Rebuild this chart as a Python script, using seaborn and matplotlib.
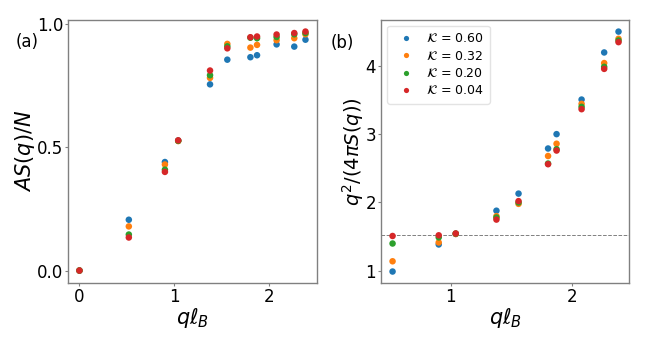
import pandas as pd
import matplotlib.pyplot as plt
import seaborn as sns

# valori
q = [0.0, 0.52, 0.90, 1.04, 1.375, 1.557, 1.80, 1.87, 2.076, 2.262, 2.38]
kappa = ['0.60', '0.32', '0.20', '0.04']

# pannello (a): A S(q) / N
as_060 = [0.0, 0.206, 0.440, 0.527, 0.755, 0.855, 0.865, 0.873, 0.917, 0.908, 0.936]
as_032 = [0.0, 0.179, 0.430, 0.525, 0.781, 0.919, 0.904, 0.915, 0.934, 0.942, 0.958]
as_020 = [0.0, 0.146, 0.409, 0.526, 0.792, 0.909, 0.944, 0.942, 0.947, 0.958, 0.963]
as_004 = [0.0, 0.134, 0.400, 0.528, 0.811, 0.901, 0.946, 0.949, 0.957, 0.963, 0.969]

# pannello (b): q^2 / (4 pi S(q)), senza il punto q = 0
r_060 = [0.99, 1.386, 1.54, 1.88, 2.13, 2.79, 3.00, 3.506, 4.195, 4.50]
r_032 = [1.14, 1.415, 1.54, 1.80, 1.98, 2.68, 2.86, 3.443, 4.04, 4.395]
r_020 = [1.40, 1.49, 1.545, 1.78, 2.00, 2.57, 2.78, 3.40, 3.985, 4.37]
r_004 = [1.51, 1.52, 1.547, 1.75, 2.02, 2.56, 2.76, 3.365, 3.955, 4.346]
linea_h = 1.518

serie_a = [as_060, as_032, as_020, as_004]
serie_b = [r_060, r_032, r_020, r_004]

righe_a = []
righe_b = []
for k, ya, yb in zip(kappa, serie_a, serie_b):
    etichetta = r'$\mathcal{K}$ = ' + k
    for x, y in zip(q, ya):
        righe_a.append({'q': x, 'y': y, 'k': etichetta})
    for x, y in zip(q[1:], yb):
        righe_b.append({'q': x, 'y': y, 'k': etichetta})
df_a = pd.DataFrame(righe_a)
df_b = pd.DataFrame(righe_b)

sns.set_style('white')
plt.rcParams['font.family'] = ['DejaVu Sans']
plt.rcParams['mathtext.fontset'] = 'dejavusans'
plt.rcParams['text.color'] = 'black'
plt.rcParams['axes.labelcolor'] = 'black'
plt.rcParams['xtick.color'] = 'black'
plt.rcParams['ytick.color'] = 'black'

colori = sns.color_palette('tab10', 4)

fig = plt.figure(figsize=(6.48, 3.4), dpi=100)
ax1 = fig.add_axes([0.105, 0.168, 0.384, 0.774])
ax2 = fig.add_axes([0.588, 0.168, 0.383, 0.774])

sns.scatterplot(data=df_a, x='q', y='y', hue='k', palette=colori, s=22,
                linewidth=0, ax=ax1, legend=False)
sns.scatterplot(data=df_b, x='q', y='y', hue='k', palette=colori, s=22,
                linewidth=0, ax=ax2)
ax2.axhline(linea_h, color='gray', ls='--', lw=0.7, zorder=0)

ax1.set_xlim(-0.12, 2.5)
ax1.set_ylim(-0.05, 1.017)
ax1.set_xticks([0, 1, 2])
ax1.set_yticks([0.0, 0.5, 1.0])
ax2.set_xlim(0.425, 2.468)
ax2.set_ylim(0.824, 4.674)
ax2.set_xticks([1, 2])
ax2.set_yticks([1, 2, 3, 4])

ax1.set_xlabel(r'$q\ell_B$', fontsize=15, labelpad=0)
ax1.set_ylabel(r'$AS(q)/N$', fontsize=15, labelpad=0)
ax2.set_xlabel(r'$q\ell_B$', fontsize=15, labelpad=0)
ax2.set_ylabel(r'$q^2/(4\pi S(q))$', fontsize=14, labelpad=0)

for ax in (ax1, ax2):
    for sp in ax.spines.values():
        sp.set_color('#808080')
        sp.set_linewidth(1.0)
    ax.tick_params(axis='both', labelsize=12, length=2.5, width=0.8,
                   color='#808080', labelcolor='black', pad=1,
                   left=True, bottom=True)

leg = ax2.legend(loc='upper left', fontsize=9, markerscale=0.8,
                 handletextpad=0.6, borderpad=0.5, labelspacing=0.35,
                 frameon=True, title=None)
leg.get_frame().set_edgecolor('#dddddd')

fig.text(0.042, 0.876, '(a)', fontsize=12, ha='center', va='center')
fig.text(0.529, 0.873, '(b)', fontsize=12, ha='center', va='center')

plt.savefig('out.png', dpi=100)
